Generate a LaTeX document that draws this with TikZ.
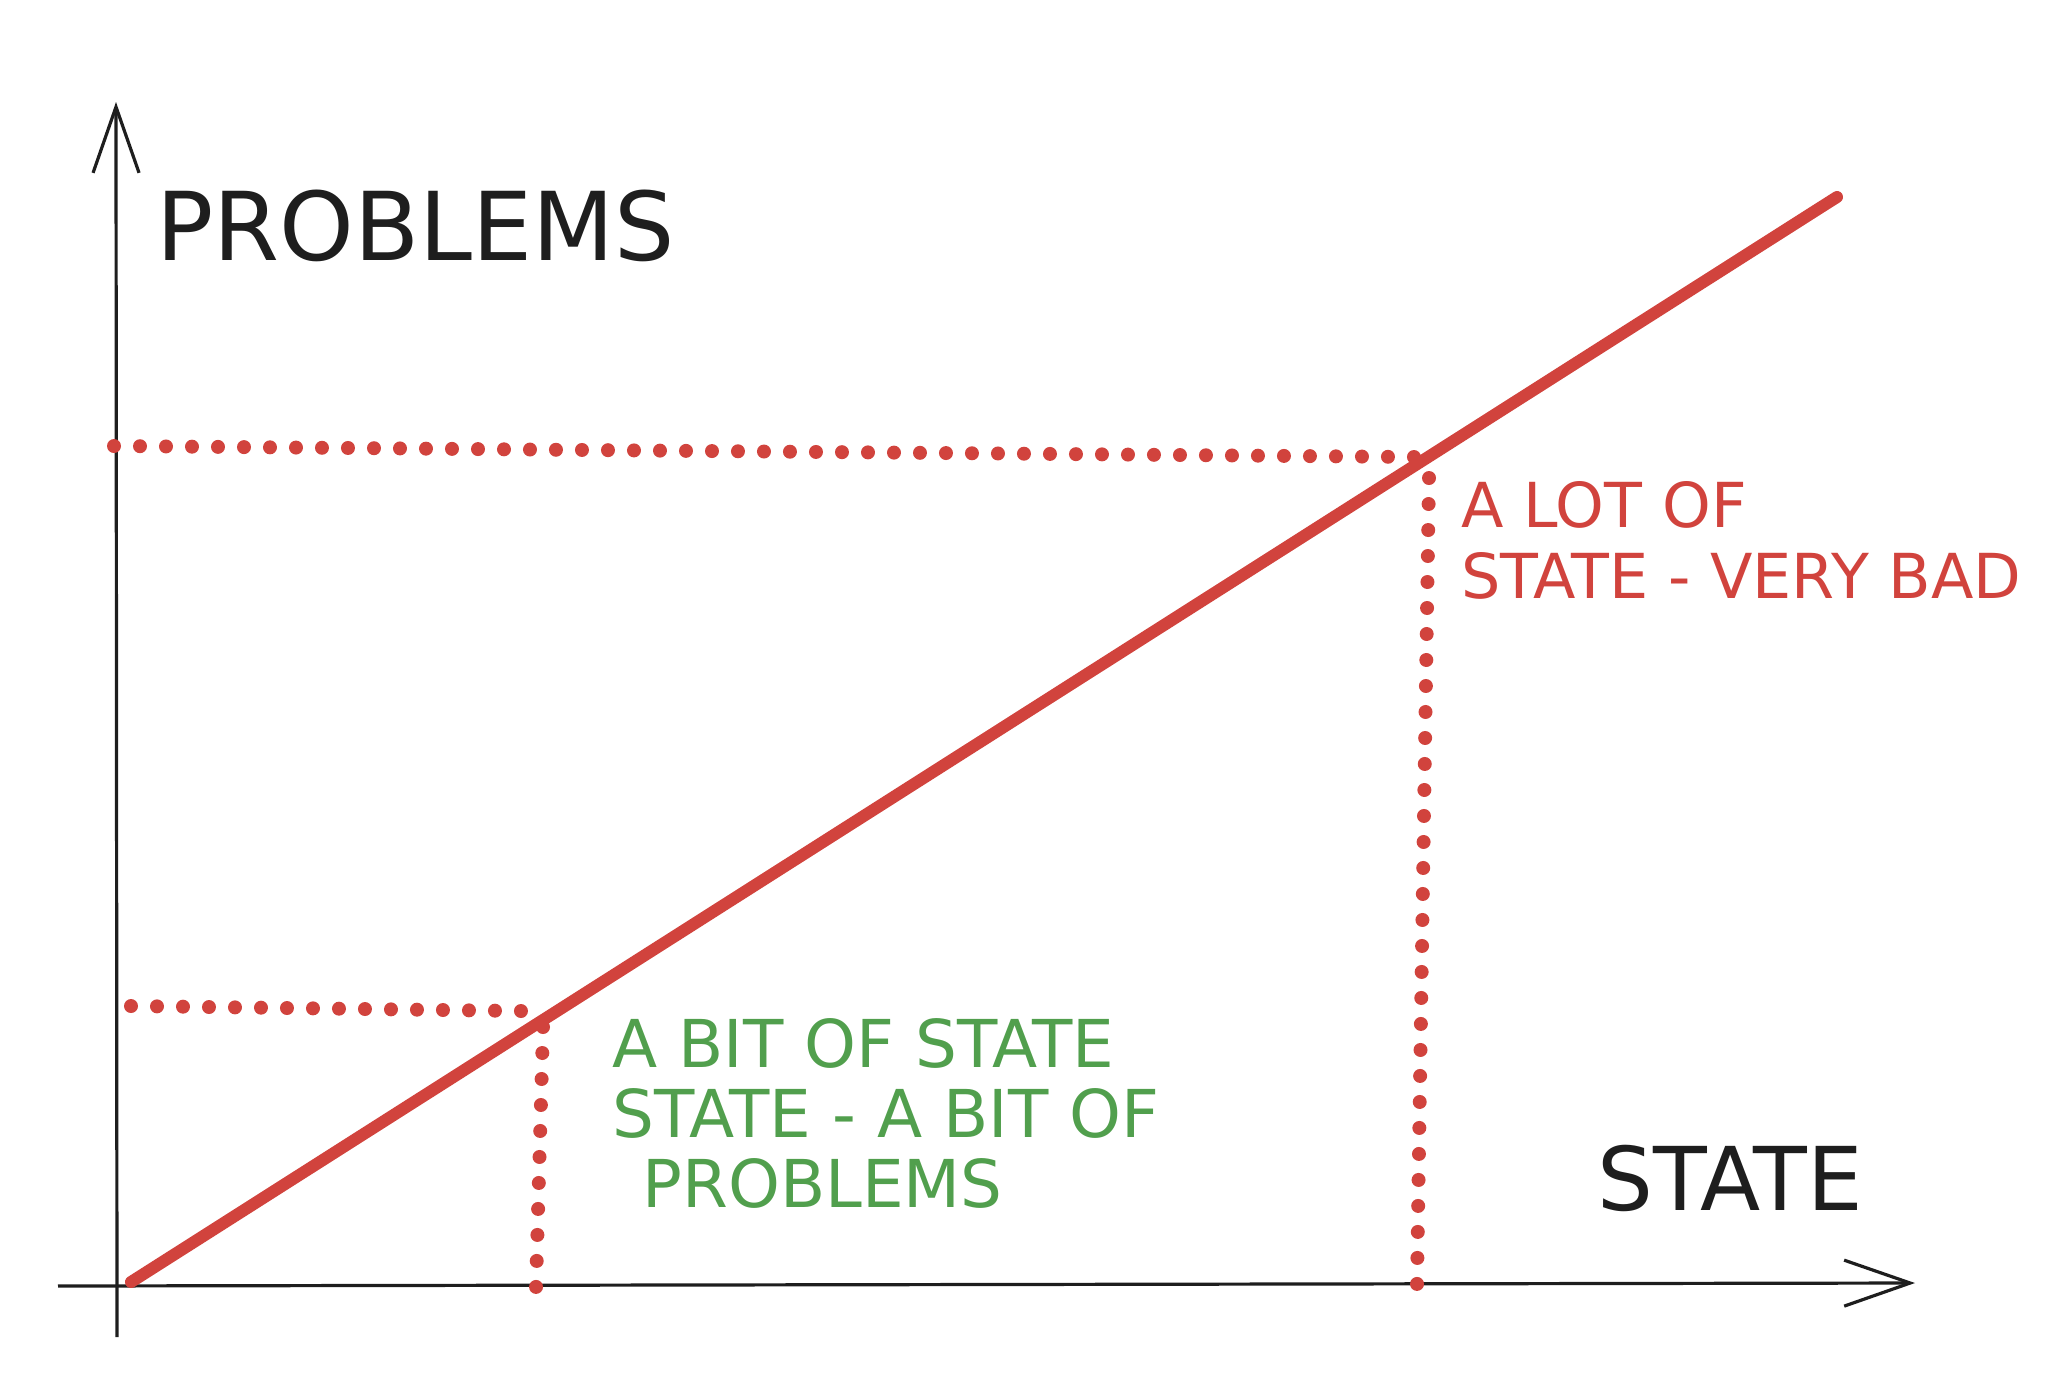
\documentclass[tikz,border=0pt]{standalone}
\usepackage{fontspec}
\setmainfont{DejaVu Sans}
\usetikzlibrary{arrows.meta}
\definecolor{ink}{RGB}{30,30,30}
\definecolor{bad}{RGB}{209,67,61}
\definecolor{good}{RGB}{81,159,77}

\begin{document}
\begin{tikzpicture}[x=0.5pt,y=-0.5pt,>={Straight Barb[length=33pt,width=23pt]},
  axis/.style={draw=ink,line width=1.6pt,->},
  trend/.style={draw=bad,line width=6pt,line cap=round},
  guide/.style={draw=bad,line width=7pt,line cap=round,dash pattern=on 0pt off 13pt},
  label/.style={inner sep=0pt,anchor=base west,align=left}]
  \useasboundingbox (0,0) rectangle (2050,1394);

  \coordinate (yb) at (117,1337);
  \coordinate (yt) at (116,102);
  \coordinate (xb) at (58,1286);
  \coordinate (xt) at (1915,1283);
  \coordinate (s0) at (131,1282);
  \coordinate (s1) at (1837,197);

  \coordinate (hi0) at (114,446);
  \coordinate (hi1) at (1414,457);
  \coordinate (hi2) at (1429,478);
  \coordinate (hi3) at (1417,1285);
  \coordinate (lo0) at (131,1006);
  \coordinate (lo1) at (521,1011);
  \coordinate (lo2) at (543,1027);
  \coordinate (lo3) at (536,1288);

  \node[label,text=ink,font=\fontsize{47.5}{50}\selectfont] (py) at (156,260) {PROBLEMS};
  \node[label,text=ink,font=\fontsize{44}{46}\selectfont]   (px) at (1597,1210) {STATE};
  \node[label,text=bad,font=\fontsize{31}{35.5}\selectfont] (lot) at (1461,598)
    {A LOT OF\\STATE - VERY BAD};
  \node[label,text=good,font=\fontsize{33}{35}\selectfont]  (bit) at (612,1207)
    {A BIT OF STATE\\STATE - A BIT OF\\\hspace*{15pt}PROBLEMS};

  \draw[axis] (yb) -- (yt);
  \draw[axis] (xb) -- (xt);
  \draw[guide] (hi0) -- (hi1);
  \draw[guide] (hi2) -- (hi3);
  \draw[guide] (lo0) -- (lo1);
  \draw[guide] (lo2) -- (lo3);
  \draw[trend] (s0) -- (s1);
\end{tikzpicture}
\end{document}
